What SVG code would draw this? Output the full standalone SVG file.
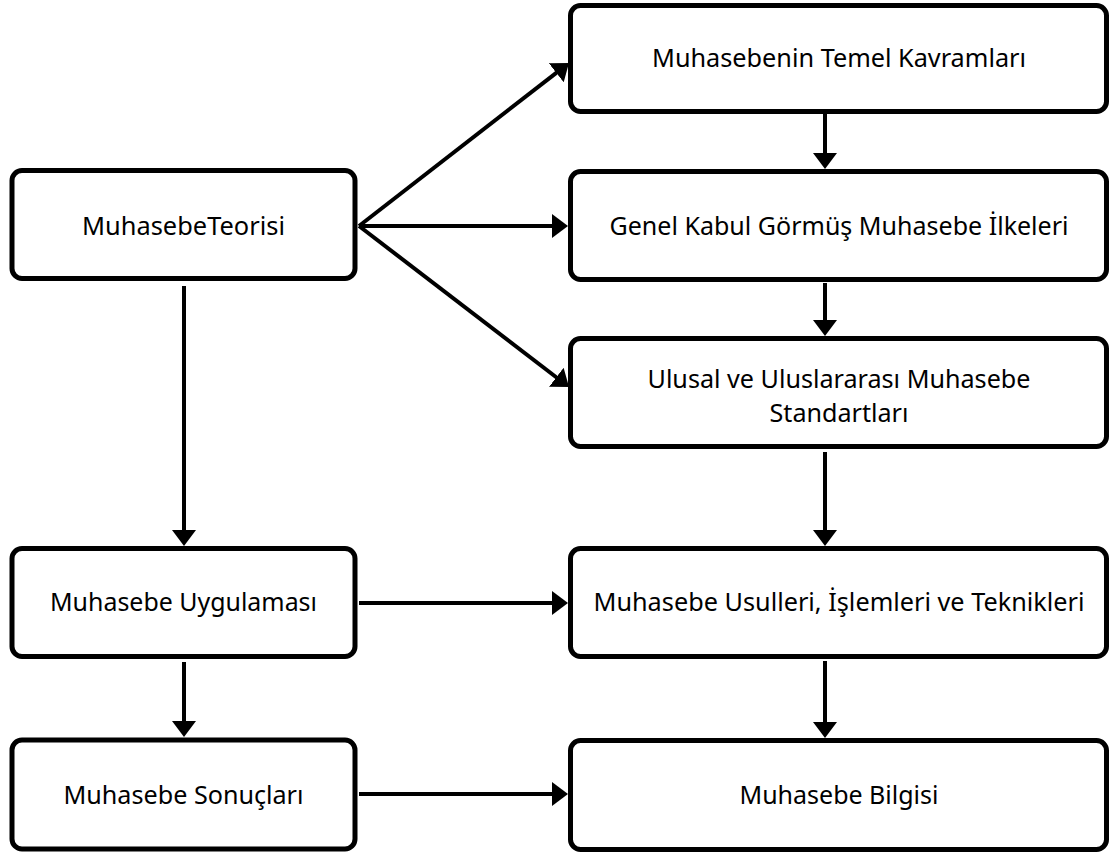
<svg xmlns="http://www.w3.org/2000/svg" width="1119" height="854" viewBox="0 0 1119 854">
<style>
.box{fill:#fff;stroke:#000;stroke-width:5}
.lbl{font-family:"Noto Sans","Open Sans",sans-serif;font-size:25.5px;fill:#000;text-anchor:middle}
.con{stroke:#000;stroke-width:4;fill:none}
</style>
<defs>
<marker id="ah" markerUnits="userSpaceOnUse" markerWidth="16" markerHeight="24" viewBox="0 0 16 24" refX="2" refY="12" orient="auto">
<path d="M0,0 L16,12 L0,24 z" fill="#000"/>
</marker>
</defs>
<rect width="1119" height="854" fill="#fff"/>
<g id="connectors">
<line class="con" x1="359" y1="226" x2="557.9" y2="71.6" marker-end="url(#ah)"/>
<line class="con" x1="359" y1="226" x2="554" y2="226" marker-end="url(#ah)"/>
<line class="con" x1="359" y1="226" x2="557.9" y2="378.5" marker-end="url(#ah)"/>
<line class="con" x1="825" y1="114" x2="825" y2="155" marker-end="url(#ah)"/>
<line class="con" x1="825" y1="283" x2="825" y2="322" marker-end="url(#ah)"/>
<line class="con" x1="825" y1="452" x2="825" y2="532" marker-end="url(#ah)"/>
<line class="con" x1="825" y1="661" x2="825" y2="724" marker-end="url(#ah)"/>
<line class="con" x1="184" y1="286" x2="184" y2="532" marker-end="url(#ah)"/>
<line class="con" x1="184" y1="662" x2="184" y2="723" marker-end="url(#ah)"/>
<line class="con" x1="359" y1="603" x2="554" y2="603" marker-end="url(#ah)"/>
<line class="con" x1="359" y1="794" x2="554" y2="794" marker-end="url(#ah)"/>
</g>
<g id="teorisi">
<rect class="box" x="12" y="170.5" width="343" height="108" rx="10"/>
<text class="lbl" x="183.5" y="235" textLength="203" lengthAdjust="spacingAndGlyphs">MuhasebeTeorisi</text>
</g>
<g id="temel">
<rect class="box" x="570.5" y="5.5" width="536" height="106" rx="10"/>
<text class="lbl" x="839" y="67" textLength="374" lengthAdjust="spacingAndGlyphs">Muhasebenin Temel Kavramları</text>
</g>
<g id="genel">
<rect class="box" x="570.5" y="171.5" width="536" height="108" rx="10"/>
<text class="lbl" x="839" y="235" textLength="459" lengthAdjust="spacingAndGlyphs">Genel Kabul Görmüş Muhasebe İlkeleri</text>
</g>
<g id="ulusal">
<rect class="box" x="570.5" y="338.5" width="536" height="108" rx="10"/>
<text class="lbl" x="839" y="388" textLength="383" lengthAdjust="spacingAndGlyphs">Ulusal ve Uluslararası Muhasebe</text>
<text class="lbl" x="839" y="422" textLength="139" lengthAdjust="spacingAndGlyphs">Standartları</text>
</g>
<g id="usuller">
<rect class="box" x="570.5" y="548.5" width="536" height="108" rx="10"/>
<text class="lbl" x="839" y="611" textLength="491" lengthAdjust="spacingAndGlyphs">Muhasebe Usulleri, İşlemleri ve Teknikleri</text>
</g>
<g id="bilgi">
<rect class="box" x="570.5" y="740.5" width="536" height="109" rx="10"/>
<text class="lbl" x="839" y="804" textLength="199" lengthAdjust="spacingAndGlyphs">Muhasebe Bilgisi</text>
</g>
<g id="uygulama">
<rect class="box" x="12" y="548.5" width="343" height="108" rx="10"/>
<text class="lbl" x="183.5" y="611" textLength="267" lengthAdjust="spacingAndGlyphs">Muhasebe Uygulaması</text>
</g>
<g id="sonuc">
<rect class="box" x="12" y="740" width="343" height="109" rx="10"/>
<text class="lbl" x="183.5" y="804" textLength="240" lengthAdjust="spacingAndGlyphs">Muhasebe Sonuçları</text>
</g>
</svg>
